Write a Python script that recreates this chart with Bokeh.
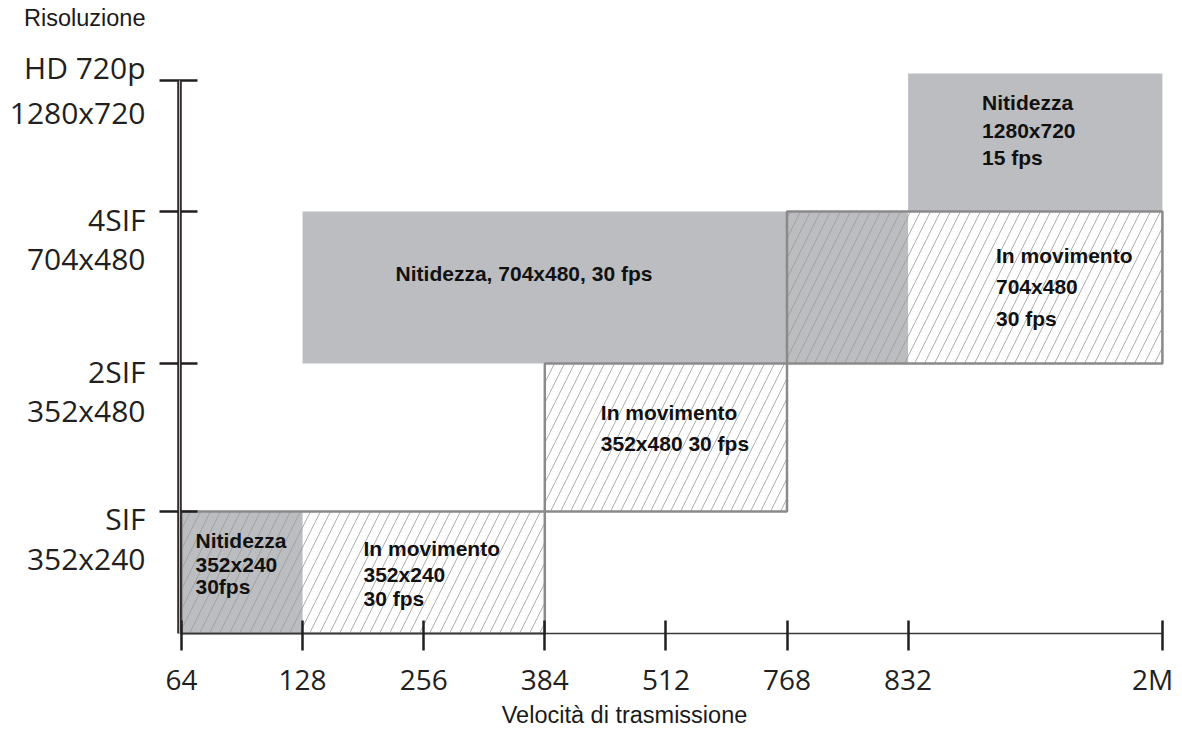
from bokeh.plotting import figure
from bokeh.models import Range1d, FixedTicker, Label
from bokeh.embed import file_html
from bokeh.resources import INLINE

# ---------------- data ----------------
rate_labels = ["64", "128", "256", "384", "512", "768", "832", "2M"]
rate_pos = [0, 1, 2, 3, 4, 5, 6, 8.1]

level_names = ["SIF", "2SIF", "4SIF", "HD 720p"]
level_sizes = ["352x240", "352x480", "704x480", "1280x720"]
level_pos = [1.0, 2.213, 3.459, 4.533]
top_pos = 4.59

# "Nitidezza" (sharpness) areas, solid grey
sharp_from = ["64", "128", "832"]
sharp_to = ["128", "832", "2M"]
sharp_low = ["base", "2SIF", "4SIF"]
sharp_high = ["SIF", "4SIF", "top"]

# "In movimento" (motion) areas, hatched
motion_from = ["64", "384", "768"]
motion_to = ["384", "768", "2M"]
motion_low = ["base", "SIF", "2SIF"]
motion_high = ["SIF", "2SIF", "4SIF"]

box_texts = [
    ["Nitidezza", "352x240", "30fps"],
    ["In movimento", "352x240", "30 fps"],
    ["In movimento", "352x480 30 fps"],
    ["Nitidezza, 704x480, 30 fps"],
    ["In movimento", "704x480", "30 fps"],
    ["Nitidezza", "1280x720", "15 fps"],
]

# --------------- layout ---------------
W, H = 1180, 735
PX, PY = 121.1, 122.0          # pixels per unit
OX, OY = 181, 633              # screen position of the origin
xpos = dict(zip(rate_labels, rate_pos))
ypos = {"base": 0.0, "top": top_pos}
ypos.update(dict(zip(["SIF", "2SIF", "4SIF", "HD"], level_pos)))
yaxis_x = -2 / PX

INK = "#231f20"
GREY = "#bcbdc0"

p = figure(width=W, height=H,
           x_range=Range1d(-OX / PX, (W - OX) / PX),
           y_range=Range1d(-(H - OY) / PY, OY / PY),
           output_backend="svg", toolbar_location=None,
           min_border=0)
p.xgrid.visible = False
p.ygrid.visible = False
p.outline_line_color = None
p.background_fill_color = "white"

# solid grey areas
p.quad(left=[xpos[k] for k in sharp_from], right=[xpos[k] for k in sharp_to],
       bottom=[ypos[k] for k in sharp_low], top=[ypos[k] for k in sharp_high],
       fill_color=GREY, line_color=None)

# hatched areas
p.quad(left=[xpos[k] for k in motion_from], right=[xpos[k] for k in motion_to],
       bottom=[ypos[k] for k in motion_low], top=[ypos[k] for k in motion_high],
       fill_color=None, line_color="#8a8a8a", line_width=2.5,
       hatch_pattern="/", hatch_color="#999999", hatch_weight=0.8, hatch_scale=20)

# --------------- axes ---------------
xa = p.xaxis[0]
xa.fixed_location = 0
xa.bounds = (0, rate_pos[-1])
xa.ticker = FixedTicker(ticks=rate_pos)
xa.major_label_overrides = {v: (l + "\u00a0" if l == "2M" else l)
                            for v, l in zip(rate_pos, rate_labels)}
xa.major_label_text_font = "Open Sans"
xa.major_label_text_font_size = "28px"
xa.major_label_text_color = INK
xa.major_label_standoff = 9
xa.major_tick_in = 13
xa.major_tick_out = 17
xa.major_tick_line_width = 2.5
xa.major_tick_line_color = INK
xa.minor_tick_line_color = None
xa.axis_line_width = 1.5
xa.axis_line_color = "#3a3a3a"

ya = p.yaxis[0]
ya.fixed_location = yaxis_x
ya.ticker = FixedTicker(ticks=level_pos)
ya.bounds = (0, level_pos[-1])
ya.major_label_text_color = None   # labels drawn below, on two lines
ya.major_tick_in = 18
ya.major_tick_out = 20
ya.major_tick_line_width = 2.5
ya.major_tick_line_color = INK
ya.minor_tick_line_color = None
ya.axis_line_width = 4.5
ya.axis_line_color = INK

# light centre of the double axis rule
r = p.segment(x0=[yaxis_x], y0=[0], x1=[yaxis_x], y1=[level_pos[-1]],
              line_color="#bdbdbd", line_width=1.2)
r.level = "overlay"

# y tick labels: name and frame size, offsets (px below the tick) of their centres
name_dy = [7, 8, 8, -13]
size_dy = [47, 47, 47, 32]
for lv, nm, sz, d1, d2 in zip(level_pos, level_names, level_sizes, name_dy, size_dy):
    for txt, d in ((nm, d1), (sz, d2)):
        p.add_layout(Label(x=0, y=lv, x_offset=-36, y_offset=-d, text=txt,
                           text_align="right", text_baseline="middle",
                           text_font="Open Sans", text_font_size="30px", text_color=INK))

# axis titles
p.add_layout(Label(x=0, y=top_pos, x_offset=-36, y_offset=56, text="Risoluzione",
                   text_align="right", text_baseline="middle",
                   text_font="Liberation Sans", text_font_size="23.5px", text_color="#1a1a1a"))
p.add_layout(Label(x=0, y=0, x_offset=443, y_offset=-81, text="Velocità di trasmissione",
                   text_align="center", text_baseline="middle",
                   text_font="Liberation Sans", text_font_size="23.5px", text_color="#1a1a1a"))

# box texts: anchor (rate, level) + pixel offsets, centre of each line below the anchor
anchors = [("64", "SIF", 14, [29, 52.5, 74.5]),
           ("64", "SIF", 182, [36.5, 63, 87]),
           ("384", "2SIF", 56, [48.5, 80]),
           ("128", "4SIF", 93, [61.5]),
           ("768", "4SIF", 209, [43.5, 75, 107]),
           ("832", "top", 74, [29, 57, 84]),
           ]
for (rk, lk, dx, dys), lines in zip(anchors, box_texts):
    for dy, t in zip(dys, lines):
        p.add_layout(Label(x=xpos[rk], y=ypos[lk], x_offset=dx, y_offset=-dy,
                           text=t, text_align="left", text_baseline="middle",
                           text_font="Liberation Sans", text_font_style="bold",
                           text_font_size="21px", text_color="#111111"))

open("out.html", "w").write(file_html(p, INLINE))
